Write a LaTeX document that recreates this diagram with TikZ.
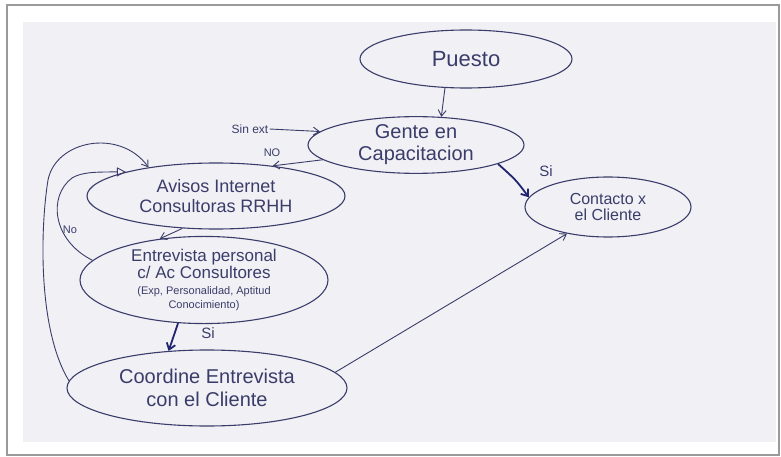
\documentclass[tikz,border=0pt]{standalone}
\usepackage{fontspec}
\setmainfont{Liberation Sans}
\usetikzlibrary{shapes.geometric,arrows.meta}
\definecolor{ink}{HTML}{3A3D6A}
\definecolor{darkink}{HTML}{20246E}
\definecolor{paper}{HTML}{F1F0F5}
\definecolor{framegray}{HTML}{9A9A9A}
\tikzset{
  state/.style={ellipse, draw=ink, line width=1.1pt, inner sep=0pt, text=ink, align=center},
  lbl/.style={text=ink, inner sep=1pt},
  conn/.style={draw=ink, line width=0.9pt, -{Straight Barb[length=6pt,width=8pt]}},
  thickconn/.style={draw=darkink, line width=1.8pt, -{Straight Barb[length=6pt,width=9pt]}},
  triconn/.style={draw=ink, line width=0.9pt, -{Triangle[open,length=9pt,width=9pt]}}
}
\newcommand{\fs}[1]{\fontsize{#1}{#1}\selectfont}
\begin{document}
\begin{tikzpicture}[x=1pt,y=-1pt]
\useasboundingbox (0,0) rectangle (781,457);
\fill[white] (0,0) rectangle (781,457);
\draw[framegray, line width=1.6pt, fill=white] (7,5) rectangle (779,455);
\fill[paper] (23,22) rectangle (776,442);

\node[state, minimum width=212pt, minimum height=58pt, font=\fs{22}] (puesto) at (466,59) {Puesto};
\node[state, minimum width=216pt, minimum height=54pt, font=\fs{20}] (gente) at (416,145) {Gente en\\[2pt]Capacitacion};
\node[state, minimum width=258pt, minimum height=66pt, font=\fs{18}] (avisos) at (216,196) {Avisos Internet\\[2pt]Consultoras RRHH};
\node[state, minimum width=248pt, minimum height=66pt, font=\fs{17}] (entrev) at (204,280) {Entrevista personal\\c/ Ac Consultores\\[-1pt]{\fs{11}(Exp, Personalidad, Aptitud}\\[-3pt]{\fs{11}Conocimiento)}};
\node[state, minimum width=280pt, minimum height=76pt, font=\fs{20}] (coord) at (207,388) {Coordine Entrevista\\[3pt]con el Cliente};
\node[state, minimum width=166pt, minimum height=60pt, font=\fs{16}] (contacto) at (608,207) {Contacto x\\el Cliente};

\node[lbl, font=\fs{12}] (sinext) at (250,129) {Sin ext};
\node[lbl, font=\fs{11}] (no1) at (272,153) {NO};
\node[lbl, font=\fs{11}] (no2) at (70,230) {No};
\node[lbl, font=\fs{15}] (si1) at (546,171) {Si};
\node[lbl, font=\fs{15}] (si2) at (208,333) {Si};

\draw[conn] (puesto.234) -- (gente.48);
\draw[conn] (sinext.east) -- (gente.172);
\draw[conn] (gente.189) -- (avisos.28);
\draw[conn] (avisos.224) -- (entrev.137);
\draw[thickconn] (entrev.239) -- (coord.136);
\draw[thickconn] (gente.347) .. controls (516,180) .. (contacto.173);
\draw[conn] (coord.7) -- (contacto.213);
\draw[conn] (coord.177) .. controls (38,330) and (40,230) .. (48,180)
  .. controls (56,140) and (120,128) .. (avisos.157);
\draw[triconn] (entrev.170) .. controls (52,240) and (48,196) .. (72,178)
  .. controls (82,172) and (95,172) .. (avisos.165);
\end{tikzpicture}
\end{document}
